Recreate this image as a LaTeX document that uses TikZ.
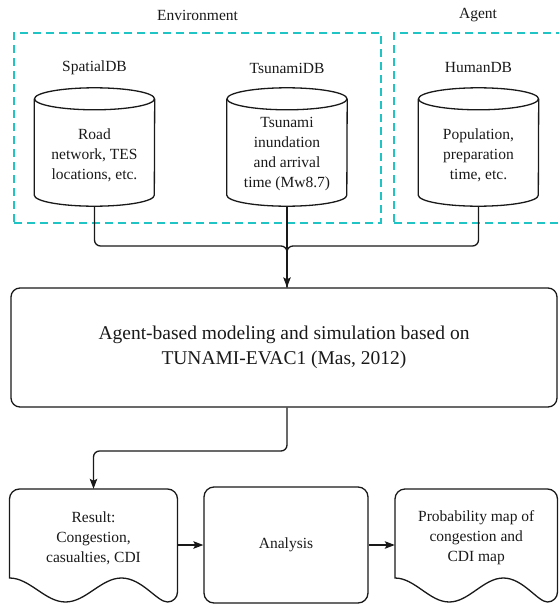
\documentclass[tikz,border=0pt]{standalone}
\usepackage{fontspec}
\setmainfont{Liberation Serif}
\usetikzlibrary{arrows.meta,calc}
\definecolor{dashcyan}{RGB}{32,196,196}
\definecolor{ink}{RGB}{25,25,25}
\begin{document}
\begin{tikzpicture}[x=1pt,y=-1pt,
  txt/.style={font=\fontsize{15.5}{20}\selectfont, align=center, inner sep=0pt, text=ink},
  dbbody/.style={minimum width=120pt, minimum height=118pt, inner sep=0pt},
  edge/.style={draw=ink, line width=1.3pt},
  arr/.style={edge, -{Stealth[length=10pt,width=7.5pt,inset=2pt]}},
  dashbox/.style={draw=dashcyan, line width=1.4pt, dash pattern=on 8pt off 5pt, inner sep=0pt},
  procbox/.style={edge, rounded corners=10pt, inner sep=0pt, text=ink}
]
\useasboundingbox (0,0) rectangle (559,605);
\clip (0,0) rectangle (559,605);

% group frames
\node[dashbox, minimum width=367pt, minimum height=190pt] (env) at (197.5,128) {};
\node[dashbox, minimum width=172pt, minimum height=190pt] (agt) at (480,128) {};
\node[txt] (envl) at (197.5,15) {Environment};
\node[txt] (agtl) at (478,15) {Agent};

% database labels
\node[txt] (sdbl) at (94.5,68) {SpatialDB};
\node[txt] (tdbl) at (287,68) {TsunamiDB};
\node[txt] (hdbl) at (478.5,68) {HumanDB};

% cylinder bodies
\node[dbbody] (sdb) at (94.5,147) {};
\node[dbbody] (tdb) at (287,147) {};
\node[dbbody] (hdb) at (478.5,147) {};
\foreach \n in {sdb,tdb,hdb}{
  \draw[edge] ([yshift=-11pt]\n.north west) -- ([yshift=11pt]\n.south west)
     arc[start angle=180,end angle=360,x radius=60pt,y radius=11pt]
     -- ([yshift=-11pt]\n.north east);
  \draw[edge] ([yshift=-11pt]\n.north) ellipse[x radius=60pt,y radius=11pt];
}
\node[txt] (sdbt) at (94.5,155) {Road\\network, TES\\locations, etc.};
\node[txt] (tdbt) at (287,154) {Tsunami\\inundation\\and arrival\\time (Mw8.7)};
\node[txt] (hdbt) at (478.5,155) {Population,\\preparation\\time, etc.};

% main process
\node[procbox, rounded corners=9pt, minimum width=546pt, minimum height=119pt,
      font=\fontsize{19.5}{25.5}\selectfont, align=center] (abm) at (284,347.5)
  {Agent-based modeling and simulation based on\\TUNAMI-EVAC1 (Mas, 2012)};

% bottom row
\node[txt, minimum width=168pt, minimum height=98pt] (res) at (93.5,538)
  {Result:\\Congestion,\\casualties, CDI};
\draw[edge] (9.5,578) [rounded corners=10pt] -- (9.5,489) -- (177.5,489) -- (177.5,602)
  [sharp corners]
  .. controls (157.1,602) and (141.9,578) .. (121.5,578)
  .. controls (101.1,578) and (85.9,602) .. (65.5,602)
  .. controls (45.1,602) and (29.9,578) .. (9.5,578) -- cycle;

\node[procbox, minimum width=164pt, minimum height=116pt,
      font=\fontsize{15.5}{20}\selectfont] (ana) at (286,545) {Analysis};

\node[txt, minimum width=162.5pt, minimum height=98pt] (prob) at (476.25,538)
  {Probability map of\\congestion and\\CDI map};
\draw[edge] (395,578) [rounded corners=10pt] -- (395,489) -- (557.5,489) -- (557.5,602)
  [sharp corners]
  .. controls (537.8,602) and (523.0,578) .. (503.33,578)
  .. controls (483.6,578) and (468.9,602) .. (449.17,602)
  .. controls (429.5,602) and (414.7,578) .. (395,578) -- cycle;

% connectors
\coordinate (mrg) at (287,246);
\draw[edge, rounded corners=6pt] (sdb.south) -- (sdb.south |- mrg) -- (mrg) -- (tdb.south |- abm.north);
\draw[edge, rounded corners=6pt] (hdb.south) -- (hdb.south |- mrg) -- (mrg) -- (tdb.south |- abm.north);
\draw[arr] (tdb.south) -- (tdb.south |- abm.north);

\coordinate (bend) at (287,451);
\draw[arr, rounded corners=6pt] (tdb.south |- abm.south) -- (bend) -- (bend -| res.north) -- (res.north);

\draw[arr] (res.east |- ana.west) -- (ana.west);
\draw[arr] (ana.east) -- (prob.west |- ana.east);
\end{tikzpicture}
\end{document}
